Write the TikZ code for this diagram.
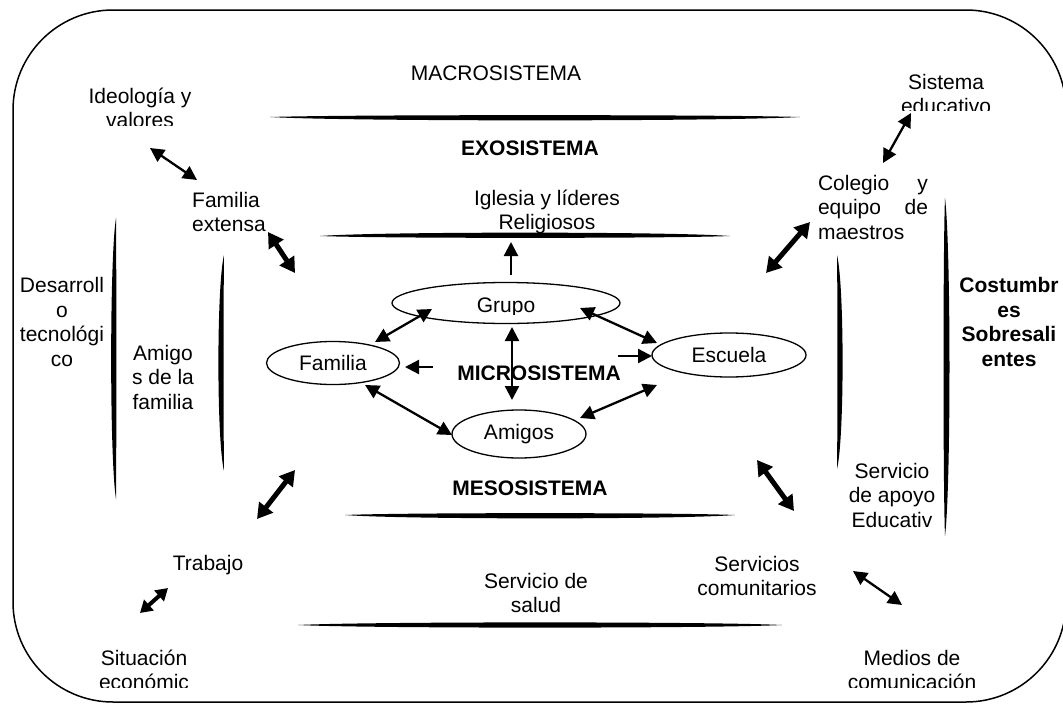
\documentclass[tikz,border=0pt]{standalone}
\usepackage{fontspec}
\setmainfont{Liberation Sans}
\usetikzlibrary{arrows.meta,shapes.geometric}
\newcommand\hbandx[5]{% x1,x2,y,sag,half
  \pgfmathsetmacro\dl{(#2-#1)/7}
  \pgfmathsetmacro\up{#4-1.33*#5}
  \pgfmathsetmacro\dn{#4+1.33*#5}
  \fill (#1,#3) .. controls +(\dl,\up) and +(-\dl,\up) .. (#2,#3)
        .. controls +(-\dl,\dn) and +(\dl,\dn) .. (#1,#3) -- cycle;}
\newcommand\vbandx[5]{% y1,y2,x,bulge,half
  \pgfmathsetmacro\dl{(#2-#1)/7}
  \pgfmathsetmacro\le{#4-1.33*#5}
  \pgfmathsetmacro\ri{#4+1.33*#5}
  \fill (#3,#1) .. controls +(\le,\dl) and +(\le,-\dl) .. (#3,#2)
        .. controls +(\ri,-\dl) and +(\ri,\dl) .. (#3,#1) -- cycle;}
\begin{document}
\begin{tikzpicture}[x=1pt,y=-1pt,
  every node/.style={font=\fontsize{21}{24.5}\selectfont, inner sep=0pt, align=center},
  bold/.style={font=\fontsize{21}{24.5}\selectfont\bfseries},
  oval/.style={ellipse, draw, line width=1.3pt, fill=white},
  dbl/.style={{Triangle[length=14pt,width=14pt]}-{Triangle[length=14pt,width=14pt]}, line width=2.3pt},
  thk/.style={{Triangle[length=15pt,width=17pt]}-{Triangle[length=15pt,width=17pt]}, line width=5pt},
  thks/.style={{Triangle[length=12pt,width=14pt]}-{Triangle[length=12pt,width=14pt]}, line width=4pt},
  sgl/.style={-{Triangle[length=14pt,width=14pt]}, line width=2.3pt}]
\useasboundingbox (0,0) rectangle (1063,704);
% outer frame
\draw[line width=1.5pt, rounded corners=100pt] (13,10) rectangle (1066,702);
% bands
\hbandx{270}{800}{117}{1}{2.6}
\hbandx{320}{730}{236}{-1}{2.6}
\hbandx{345}{735}{515}{1}{2.6}
\hbandx{298}{782}{625}{0}{2.6}
\vbandx{218}{499}{116}{-3}{2.6}
\vbandx{255}{471}{224}{-4}{2.6}
\vbandx{255}{469}{837}{4}{2.6}
\vbandx{198}{536}{945}{2}{3}
% texts
\node (macro) at (496,73) {MACROSISTEMA};
\node[bold] (exo) at (530,148) {EXOSISTEMA};
\begin{scope}
  \clip (440,180) rectangle (660,234);
  \node (iglesia) at (547,212) {Iglesia y líderes\\Religiosos};
\end{scope}
\begin{scope}
  \clip (60,60) rectangle (230,125);
  \node (ideo) at (140,108) {Ideología y\\valores};
\end{scope}
\node[anchor=west, align=left] (fext) at (192,212) {Familia\\extensa};
\begin{scope}
  \clip (880,60) rectangle (1010,110);
  \node (sised) at (946,94) {Sistema\\educativo};
\end{scope}
\node[text width=110pt, align=left] (colegio) at (873,207) {Colegio\hfill y\\equipo\hfill de\\maestros};
\node (desarr) at (62,322) {Desarroll\\o\\tecnológi\\co};
\node (amfam) at (163,377) {Amigo\\s de la\\familia};
\node[bold, align=center] (cost) at (1009,322) {Costumbr\\es\\Sobresali\\entes};
\node[bold] (meso) at (530,488) {MESOSISTEMA};
\node (salud) at (536,593) {Servicio de\\salud};
\node (trabajo) at (208,565) {Trabajo};
\begin{scope}
  \clip (60,640) rectangle (230,687);
  \node (situ) at (144,670) {Situación\\económic};
\end{scope}
\node (apoyo) at (892,495) {Servicio\\de apoyo\\Educativ};
\node (comun) at (757,576) {Servicios\\comunitarios};
\begin{scope}
  \clip (830,640) rectangle (1000,687);
  \node (medios) at (912,670) {Medios de\\comunicación};
\end{scope}
\begin{scope}
  \clip (440,355) rectangle (640,379);
  \node[bold] (micro) at (539,373) {MICROSISTEMA};
\end{scope}
% ellipses
\node[oval, minimum width=228pt, minimum height=41pt] (grupo) at (506,303) {};
\begin{scope}
  \clip (450,285) rectangle (560,314);
  \node (grupot) at (506,307) {Grupo};
\end{scope}
\node[oval, minimum width=133pt, minimum height=43pt] (familia) at (333,363) {Familia};
\node[oval, minimum width=154pt, minimum height=44pt] (escuela) at (729,355) {Escuela};
\node[oval, minimum width=134pt, minimum height=48pt] (amigos) at (519,434) {Amigos};
% arrow end points
\coordinate (a1s) at (150,148); \coordinate (a1e) at (197,180);
\coordinate (a2s) at (268,232); \coordinate (a2e) at (295,273);
\coordinate (a3s) at (911,113); \coordinate (a3e) at (883,163);
\coordinate (a4s) at (810,222); \coordinate (a4e) at (766,273);
\coordinate (a5s) at (295,470); \coordinate (a5e) at (257,519);
\coordinate (a6s) at (168,588); \coordinate (a6e) at (140,613);
\coordinate (a7s) at (757,460); \coordinate (a7e) at (794,511);
\coordinate (a8s) at (853,571); \coordinate (a8e) at (902,605);
\coordinate (us) at (511,275); \coordinate (ue) at (511,242);
\coordinate (gfs) at (432,309); \coordinate (gfe) at (375,342);
\coordinate (ges) at (580,308); \coordinate (gee) at (657,343);
\coordinate (fas) at (365,385); \coordinate (fae) at (452,435);
\coordinate (eas) at (657,385); \coordinate (eae) at (580,418);
\coordinate (gas) at (512,327); \coordinate (gae) at (512,400);
\coordinate (ls) at (433,367); \coordinate (le) at (405,367);
\coordinate (rs) at (618,356); \coordinate (re) at (652,356);
% arrows
\draw[dbl] (a1s) -- (a1e);
\draw[thk] (a2s) -- (a2e);
\draw[dbl] (a3s) -- (a3e);
\draw[thk] (a4s) -- (a4e);
\draw[thk] (a5s) -- (a5e);
\draw[thks] (a6s) -- (a6e);
\draw[thk] (a7s) -- (a7e);
\draw[dbl] (a8s) -- (a8e);
\draw[sgl] (us) -- (ue);
\draw[dbl] (gfs) -- (gfe);
\draw[dbl] (ges) -- (gee);
\draw[dbl] (fas) -- (fae);
\draw[dbl] (eas) -- (eae);
\draw[dbl] (gas) -- (gae);
\draw[sgl] (ls) -- (le);
\draw[sgl] (rs) -- (re);
\end{tikzpicture}
\end{document}
